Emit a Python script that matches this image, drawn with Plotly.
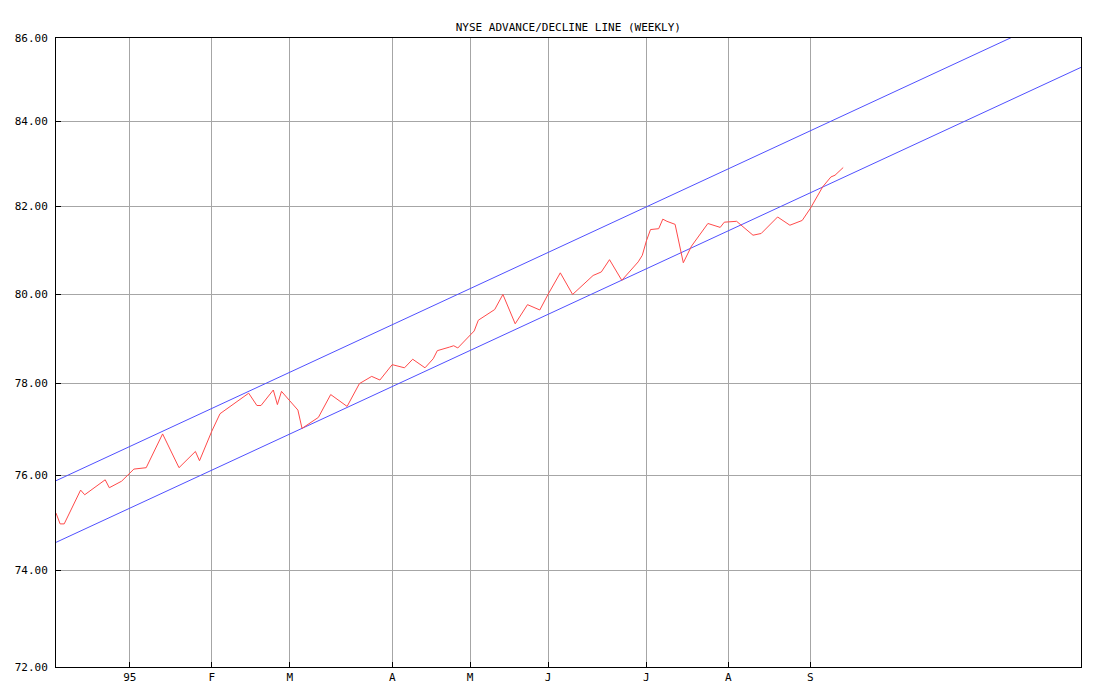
import math
import plotly.graph_objects as go

# Trading-day index (0 = left edge of the chart) and A/D line values
ad_day = [0, 1, 2, 6, 7, 12, 13, 16, 19, 22, 26, 30, 34, 35, 38, 40, 47, 49, 50, 53,
          54, 55, 59, 60, 64, 67, 71, 74, 77, 79, 82, 85, 87, 90, 92, 93, 96, 97, 98, 101,
          102, 103, 105, 107, 109, 112, 115, 118, 120, 123, 126, 129, 131, 133, 135, 138, 139, 142, 143, 144,
          145, 147, 148, 149, 151, 153, 155, 159, 162, 163, 166, 170, 172, 176, 179, 182, 184, 187, 189, 190,
          192]
ad_value = [75.20, 74.97, 74.97, 75.69, 75.59, 75.91, 75.74, 75.88, 76.14, 76.17, 76.90, 76.17, 76.52, 76.32, 76.96, 77.34, 77.79, 77.52, 77.52, 77.86,
            77.54, 77.83, 77.42, 77.02, 77.26, 77.76, 77.50, 78.00, 78.16, 78.08, 78.42, 78.35, 78.54, 78.35, 78.55, 78.73, 78.81, 78.84, 78.79, 79.06,
            79.17, 79.41, 79.54, 79.65, 79.99, 79.33, 79.76, 79.64, 79.99, 80.48, 79.99, 80.26, 80.42, 80.50, 80.78, 80.31, 80.41, 80.73, 80.88, 81.21,
            81.47, 81.49, 81.71, 81.66, 81.59, 80.71, 81.09, 81.61, 81.52, 81.64, 81.66, 81.34, 81.38, 81.76, 81.57, 81.68, 81.96, 82.46, 82.69, 82.73,
            82.91]

# Trend channel end points
channel_day = [0, 250]
upper_channel = [75.89, 86.80]
lower_channel = [74.58, 85.29]

# Axis ticks
x_tick_days = [18, 38, 57, 82, 101, 120, 144, 164, 184]
x_tick_text = ["95", "F", "M", "A", "M", "J", "J", "A", "S"]
y_tick_vals = [72, 74, 76, 78, 80, 82, 84, 86]
y_tick_text = ["72.00", "74.00", "76.00", "78.00", "80.00", "82.00", "84.00", "86.00"]

FONT = "DejaVu Sans Mono"
BLUE = "#5050ff"
RED = "#ff4a4a"
GRID = "#a6a6a6"

fig = go.Figure()
fig.add_trace(go.Scatter(x=channel_day, y=upper_channel, mode="lines",
                         line=dict(color=BLUE, width=1), hoverinfo="skip"))
fig.add_trace(go.Scatter(x=channel_day, y=lower_channel, mode="lines",
                         line=dict(color=BLUE, width=1), hoverinfo="skip"))
fig.add_trace(go.Scatter(x=ad_day, y=ad_value, mode="lines",
                         line=dict(color=RED, width=1)))

fig.update_layout(
    width=1104, height=696,
    margin=dict(l=56, r=23, t=38, b=29),
    paper_bgcolor="white", plot_bgcolor="white",
    showlegend=False,
    title=dict(text="NYSE ADVANCE/DECLINE LINE (WEEKLY)", x=0.5148, xanchor="center",
               y=1 - 27 / 696, yanchor="middle", yref="container",
               font=dict(family=FONT, size=11, color="black")),
    font=dict(family=FONT, size=11, color="black"),
    xaxis=dict(range=[0, 250], tickmode="array", tickvals=x_tick_days, ticktext=x_tick_text,
               showgrid=True, gridcolor=GRID, gridwidth=1, zeroline=False,
               showline=True, linecolor="black", linewidth=1, mirror=True,
               ticks="inside", ticklen=5, tickcolor="black", tickwidth=1,
               tickfont=dict(family=FONT, size=11, color="black")),
    yaxis=dict(type="log", range=[math.log10(72), math.log10(86)],
               tickmode="array", tickvals=y_tick_vals, ticktext=y_tick_text,
               showgrid=True, gridcolor=GRID, gridwidth=1, zeroline=False,
               showline=True, linecolor="black", linewidth=1, mirror=True,
               ticks="inside", ticklen=5, tickcolor="black", tickwidth=1,
               ticklabelstandoff=5,
               tickfont=dict(family=FONT, size=11, color="black")),
)

fig.write_html("out.html", config={"displayModeBar": False},
               post_script="document.body.style.margin='0px';")
